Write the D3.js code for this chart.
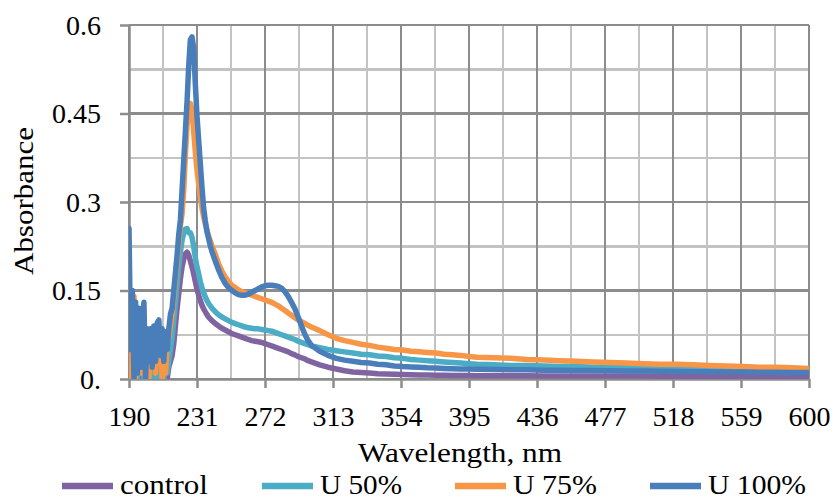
<!DOCTYPE html>
<meta charset = "utf-8">
<style>
body { margin: 0; background: #fff; }
text { font-family: "Liberation Serif", "Times New Roman", serif; fill: #000; }
.grid line { stroke-width: 2.5px; shape-rendering: crispEdges; }
.series path { fill: none; stroke-width: 5.5px; stroke-linejoin: round; stroke-linecap: round; }
</style>

<svg width="835" height="500"></svg>
<script src="https://d3js.org/d3.v7.min.js"></script>

<script>

// data (absorbance vs wavelength, nm)
let wavelengths = [
  190,191,192,193,194,195,196,197,198,199,200,201,202,203,204,205,206,207,208,209,210,211,212,213,214,215,
  216,217,218,219,220,221,222,223,224,225,226,227,228,229,230,231,232,233,234,235,236,237,238,239,240,
  242,244,246,248,250,252,254,256,258,260,262,264,266,268,270,272,274,276,278,280,
  282,284,286,288,290,292,294,296,298,300,
  305,310,315,320,325,330,335,340,345,350,355,360,365,370,375,380,385,390,395,400,
  410,420,430,440,450,460,470,480,490,500,510,520,530,540,550,560,570,580,590,600
];

let control = [
  0.05,0.0,0.06,0.01,0.07,0.0,0.05,0.0,0.04,0.0,0.03,0.0,0.04,0.0,0.03,0.0,0.02,0.0,0.03,0.0,0.02,0.0,0.01,0.0,0.02,0.03,
  0.04,0.06,0.09,0.12,0.145,0.17,0.19,0.203,0.212,0.215,0.21,0.2,0.19,0.178,0.165,0.152,0.142,0.133,0.125,0.119,0.114,0.109,0.105,0.102,0.099,
  0.094,0.09,0.086,0.083,0.08,0.077,0.075,0.073,0.071,0.069,0.067,0.065,0.064,0.063,0.062,0.06,0.058,0.056,0.054,0.052,
  0.05,0.048,0.046,0.043,0.041,0.038,0.036,0.034,0.031,0.029,
  0.024,0.02,0.017,0.014,0.012,0.011,0.01,0.009,0.0085,0.008,0.0075,0.007,0.0068,0.0066,0.0064,0.0062,0.006,0.006,0.0058,0.0056,
  0.0055,0.0054,0.0053,0.0052,0.0052,0.0051,0.005,0.005,0.0049,0.0049,0.0048,0.0048,0.0047,0.0047,0.0046,0.0046,0.0045,0.0045,0.0045,0.0045
];

let u50 = [
  0.1,0.0,0.09,0.02,0.1,0.0,0.07,0.01,0.06,0.0,0.05,0.0,0.04,0.01,0.05,0.0,0.04,0.0,0.03,0.0,0.03,0.0,0.02,0.01,0.03,0.05,
  0.07,0.1,0.13,0.16,0.19,0.215,0.235,0.248,0.254,0.255,0.248,0.248,0.24,0.225,0.205,0.19,0.178,0.165,0.155,0.146,0.139,0.133,0.128,0.124,0.12,
  0.114,0.109,0.105,0.102,0.099,0.096,0.094,0.092,0.09,0.088,0.087,0.086,0.085,0.085,0.084,0.083,0.082,0.081,0.079,0.077,
  0.075,0.073,0.071,0.069,0.067,0.064,0.062,0.06,0.058,0.056,
  0.053,0.05,0.048,0.046,0.044,0.042,0.041,0.039,0.038,0.036,0.035,0.033,0.032,0.031,0.03,0.029,0.028,0.027,0.026,0.025,
  0.024,0.023,0.023,0.022,0.021,0.021,0.02,0.019,0.019,0.018,0.018,0.017,0.017,0.016,0.016,0.015,0.015,0.015,0.014,0.014
];

let u75 = [
  0.0,0.12,0.02,0.14,0.0,0.11,0.03,0.08,0.01,0.07,0.02,0.06,0.0,0.07,0.03,0.06,0.01,0.07,0.03,0.06,0.0,0.05,0.01,0.06,0.07,0.09,
  0.11,0.14,0.17,0.2,0.23,0.26,0.28,0.32,0.38,0.43,0.46,0.467,0.455,0.42,0.385,0.355,0.33,0.31,0.29,0.275,0.263,0.252,0.242,0.234,0.226,
  0.212,0.195,0.183,0.173,0.165,0.159,0.155,0.151,0.148,0.146,0.144,0.142,0.14,0.138,0.136,0.134,0.132,0.13,0.127,0.124,
  0.12,0.116,0.112,0.108,0.104,0.1,0.097,0.094,0.091,0.088,
  0.082,0.075,0.069,0.065,0.062,0.059,0.057,0.054,0.052,0.05,0.049,0.047,0.046,0.045,0.044,0.042,0.041,0.04,0.038,0.037,
  0.036,0.035,0.033,0.032,0.031,0.03,0.029,0.028,0.027,0.026,0.025,0.025,0.024,0.023,0.022,0.021,0.02,0.02,0.019,0.018
];

let u100 = [
  0.255,0.05,0.15,0.0,0.13,0.01,0.12,0.02,0.09,0.13,0.0,0.085,0.03,0.085,0.02,0.09,0.03,0.095,0.1,0.04,0.085,0.03,0.08,0.05,0.085,0.11,
  0.12,0.15,0.18,0.21,0.245,0.27,0.32,0.37,0.42,0.47,0.53,0.575,0.58,0.56,0.5,0.445,0.405,0.365,0.325,0.29,0.268,0.25,0.238,0.226,0.216,
  0.2,0.185,0.172,0.162,0.155,0.15,0.146,0.143,0.142,0.142,0.144,0.147,0.15,0.153,0.156,0.158,0.159,0.159,0.158,0.157,
  0.154,0.148,0.14,0.13,0.119,0.105,0.09,0.076,0.065,0.057,
  0.047,0.04,0.035,0.032,0.03,0.028,0.027,0.025,0.024,0.022,0.021,0.0205,0.02,0.019,0.0185,0.018,0.0175,0.017,0.0168,0.0165,
  0.016,0.0158,0.0155,0.015,0.0147,0.0145,0.0142,0.014,0.0137,0.0134,0.013,0.0128,0.0125,0.0122,0.012,0.0117,0.0115,0.0113,0.0111,0.011
];

let seriesNames = ["control", "U 50%", "U 75%", "U 100%"];
let seriesValues = [control, u50, u75, u100];
let seriesColors = ["#8064A2", "#4BACC6", "#F79646", "#4A7EBB"];

let xTicks = [190, 231, 272, 313, 354, 395, 436, 477, 518, 559, 600];
let yTicks = [0, 0.15, 0.3, 0.45, 0.6];
let yTickLabels = ["0.", "0.15", "0.3", "0.45", "0.6"];

let svg = d3.select("svg");
let plotLeft = 129, plotRight = 809, plotTop = 25, plotBottom = 379;

let x = d3.scaleLinear().domain([190, 600]).range([plotLeft, plotRight]);
let y = d3.scaleLinear().domain([0, 0.6]).range([plotBottom, plotTop]);

// gridlines: minor (light) then major (dark)
let minorX = xTicks.slice(0, -1).map(function(d) { return d + 20.5; });
let minorY = yTicks.slice(0, -1).map(function(d) { return d + 0.075; });

let grid = svg.append("g").attr("class", "grid");
grid.selectAll(".mx").data(minorX).enter().append("line")
  .attr("x1", x).attr("x2", x).attr("y1", plotTop).attr("y2", plotBottom).attr("stroke", "#c3c3c3");
grid.selectAll(".my").data(minorY).enter().append("line")
  .attr("x1", plotLeft).attr("x2", plotRight).attr("y1", y).attr("y2", y).attr("stroke", "#c3c3c3");
grid.selectAll(".Mx").data(xTicks).enter().append("line")
  .attr("x1", x).attr("x2", x).attr("y1", plotTop).attr("y2", plotBottom).attr("stroke", "#8c8c8c");
grid.selectAll(".My").data(yTicks).enter().append("line")
  .attr("x1", plotLeft).attr("x2", plotRight).attr("y1", y).attr("y2", y).attr("stroke", "#8c8c8c");

// axes
let xAxis = svg.append("g")
  .attr("transform", "translate(0," + plotBottom + ")")
  .call(d3.axisBottom(x).tickValues(xTicks).tickSize(9).tickPadding(18).tickSizeOuter(0));
let yAxis = svg.append("g")
  .attr("transform", "translate(" + plotLeft + ",0)")
  .call(d3.axisLeft(y).tickValues(yTicks).tickSize(9).tickPadding(19).tickSizeOuter(0)
    .tickFormat(function(d, i) { return yTickLabels[i]; }));

[xAxis, yAxis].forEach(function(a) {
  a.select(".domain").attr("stroke", "#8c8c8c").attr("stroke-width", 2.5);
  a.selectAll(".tick line").attr("stroke", "#8c8c8c").attr("stroke-width", 2.5);
  a.selectAll("text").style("font-family", "Liberation Serif").style("font-size", "28px").attr("fill", "#000");
});
xAxis.selectAll("text").attr("dy", "0.7em");
yAxis.selectAll("text").attr("dy", "0.33em");

// lines
svg.append("clipPath").attr("id", "plot").append("rect")
  .attr("x", plotLeft).attr("y", plotTop).attr("width", plotRight - plotLeft).attr("height", plotBottom - plotTop);

let line = d3.line()
  .x(function(d, i) { return x(wavelengths[i]); })
  .y(function(d) { return y(d); });

svg.append("g").attr("class", "series").attr("clip-path", "url(#plot)")
  .selectAll("path")
  .data(seriesValues)
  .enter().append("path")
  .attr("stroke", function(d, i) { return seriesColors[i]; })
  .attr("d", line);

// axis titles
svg.append("text")
  .attr("transform", "translate(33,201) rotate(-90)")
  .attr("text-anchor", "middle")
  .attr("textLength", 148).attr("lengthAdjust", "spacingAndGlyphs")
  .style("font-size", "28px")
  .text("Absorbance");

svg.append("text")
  .attr("x", 460).attr("y", 462)
  .attr("text-anchor", "middle")
  .attr("textLength", 204).attr("lengthAdjust", "spacingAndGlyphs")
  .style("font-size", "28px")
  .text("Wavelength, nm");

// legend
let legendX = [62, 262, 455, 650];
let legendW = [88, 82, 84, 98];

let legend = svg.append("g").selectAll("g")
  .data(seriesNames)
  .enter().append("g")
  .attr("transform", function(d, i) { return "translate(" + legendX[i] + ",0)"; });

legend.append("line")
  .attr("x1", 0).attr("x2", 51).attr("y1", 486).attr("y2", 486)
  .attr("stroke", function(d, i) { return seriesColors[i]; })
  .attr("stroke-width", 6.5);

legend.append("text")
  .attr("x", 58).attr("y", 494)
  .attr("textLength", function(d, i) { return legendW[i]; })
  .attr("lengthAdjust", "spacingAndGlyphs")
  .style("font-size", "27px")
  .text(function(d) { return d; });

</script>
